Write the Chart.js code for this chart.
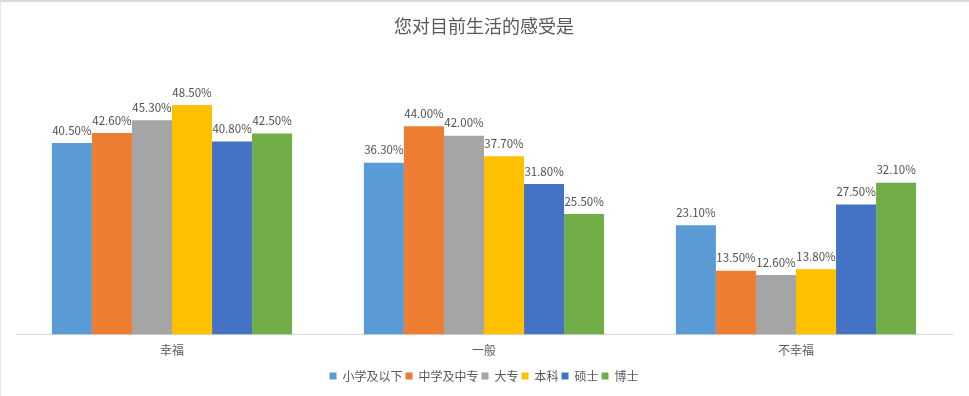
<!DOCTYPE html>
<html>
<head>
<meta charset="utf-8">
<script src="https://cdn.jsdelivr.net/npm/chart.js@4"></script>
<style>
  html, body { margin: 0; padding: 0; background: #fff; }
  #wrap { width: 969px; height: 396px; position: relative; box-sizing: border-box; border-top: 2px solid #d9d9d9; border-left: 1px solid #e6e6e6; }
</style>
</head>
<body>
<div id="wrap"><canvas id="chart"></canvas></div>
<script>
// 分类和各学历的数据 (%)
const categories = ['幸福', '一般', '不幸福']
const seriesNames = ['小学及以下', '中学及中专', '大专', '本科', '硕士', '博士']
const xiaoxue = [40.5, 36.3, 23.1]
const zhongxue = [42.6, 44.0, 13.5]
const dazhuan = [45.3, 42.0, 12.6]
const benke = [48.5, 37.7, 13.8]
const shuoshi = [40.8, 31.8, 27.5]
const boshi = [42.5, 25.5, 32.1]
const colors = ['#5B9BD5', '#ED7D31', '#A5A5A5', '#FFC000', '#4472C4', '#70AD47']

const seriesValues = [xiaoxue, zhongxue, dazhuan, benke, shuoshi, boshi]

const FONT = '"Noto Sans CJK SC", "Noto Sans", sans-serif'

// 柱子上面的百分比
const barLabels = {
  id: 'barLabels',
  afterDatasetsDraw(chart) {
    const ctx = chart.ctx
    ctx.save()
    ctx.font = '11.5px ' + FONT
    ctx.fillStyle = '#505050'
    ctx.textAlign = 'center'
    ctx.textBaseline = 'bottom'
    chart.data.datasets.forEach((ds, i) => {
      const meta = chart.getDatasetMeta(i)
      meta.data.forEach((bar, j) => {
        ctx.fillText(ds.data[j].toFixed(2) + '%', bar.x, bar.y - 7)
      })
    })
    ctx.restore()
  }
}

const ctx = document.getElementById('chart')
ctx.width = 968
ctx.height = 394

new Chart(ctx, {
  type: 'bar',
  data: {
    labels: categories,
    datasets: seriesNames.map((name, i) => ({
      label: name,
      data: seriesValues[i],
      backgroundColor: colors[i],
      borderWidth: 0
    }))
  },
  options: {
    responsive: false,
    animation: false,
    categoryPercentage: 0.77,
    barPercentage: 1,
    layout: { padding: { left: 15, right: 17, top: 0, bottom: 4 } },
    plugins: {
      title: {
        display: true,
        text: '您对目前生活的感受是',
        color: '#595959',
        font: { family: FONT, size: 18, weight: 'normal' },
        padding: { top: 13, bottom: 14 }
      },
      legend: {
        position: 'bottom',
        labels: {
          color: '#595959',
          font: { family: FONT, size: 12 },
          boxWidth: 7,
          boxHeight: 7,
          padding: 3
        }
      },
      tooltip: { enabled: false }
    },
    scales: {
      x: {
        grid: { display: false, drawTicks: false },
        border: { color: '#d9d9d9' },
        ticks: { color: '#595959', font: { family: FONT, size: 12 }, padding: 9 }
      },
      y: {
        display: false,
        min: 0,
        max: 60
      }
    }
  },
  plugins: [barLabels]
})
</script>
</body>
</html>
